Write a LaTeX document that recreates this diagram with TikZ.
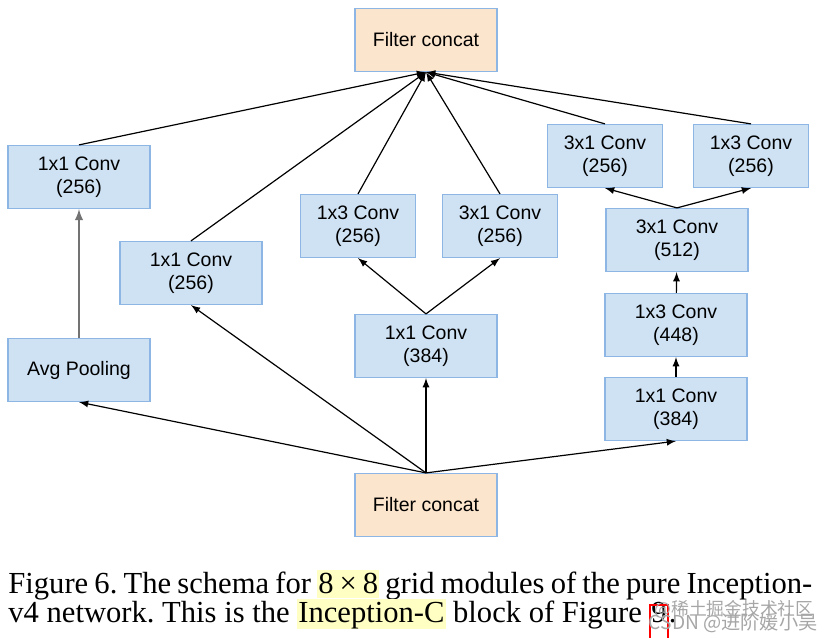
\documentclass[tikz,border=0pt]{standalone}
\usepackage{fontspec}
\setmainfont{Liberation Sans}
\newfontfamily\capfont{Liberation Serif}
\newfontfamily\cjkfont{Noto Sans CJK SC}
\definecolor{convfill}{HTML}{CFE2F3}
\definecolor{convline}{HTML}{8EB6E4}
\definecolor{concatfill}{HTML}{FCE5CD}
\definecolor{marker}{HTML}{FFFFC4}
\newcommand\marked[1]{{\setlength\fboxsep{0pt}\colorbox{marker}{\rule[-2.5pt]{0pt}{14pt}\hspace{0.5pt}#1\hspace{0.5pt}}}}
\newcommand\linkbox[1]{{\setlength\fboxrule{1pt}\setlength\fboxsep{0pt}\color{red}\fbox{\rule[-10pt]{0pt}{18pt}\smash{\color{black}#1}}}}
\tikzset{
	conv/.style={draw=convline, fill=convfill, line width=0.6pt, minimum width=71pt, minimum height=31.5pt, inner sep=0pt, align=center, font=\fontsize{9.75}{11.5}\selectfont},
	convs/.style={conv, minimum width=57.5pt},
	concat/.style={conv, fill=concatfill},
	link/.style={->, line width=0.6pt},
	poolink/.style={->, line width=0.9pt, draw=black!55},
	caption/.style={anchor=base west, inner sep=0pt, font=\capfont\fontsize{15.3}{14}\selectfont\frenchspacing},
	watermark/.style={anchor=east, inner sep=0pt, text=black!35, font=\cjkfont\fontsize{8.9}{9}\selectfont}
}
\begin{document}
\begin{tikzpicture}[x=0.5pt,y=-0.5pt,>=latex]
	\useasboundingbox (0,0) rectangle (832,638);
	\node[concat] (top) at (426,40) {Filter concat};
	\node[concat] (bot) at (426,505) {Filter concat};
	\node[conv] (pool) at (79,370) {Avg Pooling};
	\node[conv] (poolconv) at (79,177) {1x1 Conv\\(256)};
	\node[conv] (single) at (191,273) {1x1 Conv\\(256)};
	\node[conv] (midroot) at (426,346) {1x1 Conv\\(384)};
	\node[convs] (midleft) at (358,226) {1x3 Conv\\(256)};
	\node[convs] (midright) at (500,226) {3x1 Conv\\(256)};
	\node[conv] (deepa) at (676,409) {1x1 Conv\\(384)};
	\node[conv] (deepb) at (676,325) {1x3 Conv\\(448)};
	\node[conv] (deepc) at (677,240) {3x1 Conv\\(512)};
	\node[convs] (deepleft) at (605,156) {3x1 Conv\\(256)};
	\node[convs] (deepright) at (751,156) {1x3 Conv\\(256)};
	\foreach \n in {pool,single,midroot,deepa}
		\draw[link] (bot.north) -- (\n.south);
	\draw[poolink] (pool) -- (poolconv);
	\draw[link] (midroot.north) -- (midleft.south);
	\draw[link] (midroot.north) -- (midright.south);
	\draw[link] (deepa) -- (deepb);
	\draw[link] (deepb) -- (deepc);
	\draw[link] (deepc.north) -- (deepleft.south);
	\draw[link] (deepc.north) -- (deepright.south);
	\foreach \n in {poolconv,single,midleft,midright,deepleft,deepright}
		\draw[link] (\n.north) -- (top.south);
	\node[caption] (cap1) at (8,593) {\makebox[402pt][s]{Figure 6. The schema for \marked{8\hspace{3pt}×\hspace{3pt}8} grid modules of the pure Inception-}};
	\node[caption] (cap2) at (8,622) {v4 network. This is the \marked{Inception-C} block of Figure \linkbox{9}.};
	\node[watermark] (mark1) at (814,609) {@稀土掘金技术社区};
	\node[watermark, font=\cjkfont\fontsize{9.6}{10}\selectfont] (mark2) at (818,623) {CSDN @进阶媛小吴};
\end{tikzpicture}
\end{document}
